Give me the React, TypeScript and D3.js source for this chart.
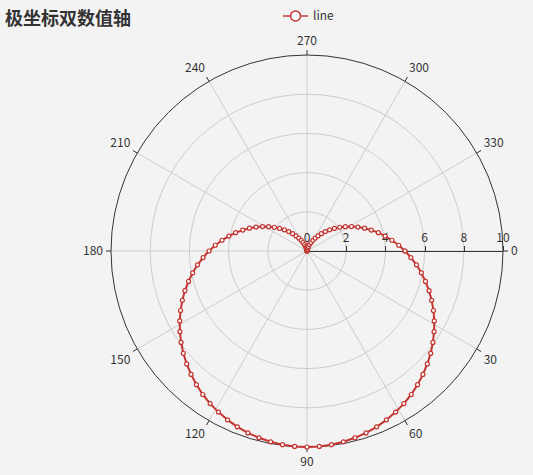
import * as d3 from "d3";
import { useEffect, useRef } from "react";

// ─── data ────────────────────────────────────────────────────────────────
const THETA: number[] = [
  0, 3.6, 7.2, 10.8, 14.4, 18, 21.6, 25.2, 28.8, 32.4, 36, 39.6, 43.2, 46.8, 50.4, 54, 57.6, 61.2, 64.8, 68.4,
  72, 75.6, 79.2, 82.8, 86.4, 90, 93.6, 97.2, 100.8, 104.4, 108, 111.6, 115.2, 118.8, 122.4, 126, 129.6, 133.2,
  136.8, 140.4, 144, 147.6, 151.2, 154.8, 158.4, 162, 165.6, 169.2, 172.8, 176.4, 180, 183.6, 187.2, 190.8, 194.4,
  198, 201.6, 205.2, 208.8, 212.4, 216, 219.6, 223.2, 226.8, 230.4, 234, 237.6, 241.2, 244.8, 248.4, 252, 255.6,
  259.2, 262.8, 266.4, 270, 273.6, 277.2, 280.8, 284.4, 288, 291.6, 295.2, 298.8, 302.4, 306, 309.6, 313.2, 316.8,
  320.4, 324, 327.6, 331.2, 334.8, 338.4, 342, 345.6, 349.2, 352.8, 356.4, 360,
];
const R: number[] = [
  5.0, 5.31, 5.63, 5.94, 6.24, 6.55, 6.84, 7.13, 7.41, 7.68, 7.94, 8.19, 8.42, 8.64, 8.85, 9.05, 9.22, 9.38, 9.52,
  9.65, 9.76, 9.84, 9.91, 9.96, 9.99, 10.0, 9.99, 9.96, 9.91, 9.84, 9.76, 9.65, 9.52, 9.38, 9.22, 9.05, 8.85, 8.64,
  8.42, 8.19, 7.94, 7.68, 7.41, 7.13, 6.84, 6.55, 6.24, 5.94, 5.63, 5.31, 5.0, 4.69, 4.37, 4.06, 3.76, 3.45, 3.16,
  2.87, 2.59, 2.32, 2.06, 1.81, 1.58, 1.36, 1.15, 0.95, 0.78, 0.62, 0.48, 0.35, 0.24, 0.16, 0.09, 0.04, 0.01, 0.0,
  0.01, 0.04, 0.09, 0.16, 0.24, 0.35, 0.48, 0.62, 0.78, 0.95, 1.15, 1.36, 1.58, 1.81, 2.06, 2.32, 2.59, 2.87, 3.16,
  3.45, 3.76, 4.06, 4.37, 4.69, 5.0,
];
const ANGLE_TICKS = [0, 30, 60, 90, 120, 150, 180, 210, 240, 270, 300, 330];
const RADIUS_TICKS = [0, 2, 4, 6, 8, 10];

const TITLE = "极坐标双数值轴";
const SERIES_NAME = "line";
const COLOR = "#c23531";
const FONT = "'Noto Sans CJK SC', 'Noto Sans', sans-serif";

const W = 533;
const H = 475;

export default function App() {
  const ref = useRef<SVGSVGElement>(null);

  useEffect(() => {
    if (!ref.current) return;
    const svg = d3.select(ref.current);
    svg.selectAll("*").remove();

    const cx = 307;
    const cy = 251;
    const rMax = 196;

    const r = d3.scaleLinear().domain([0, 10]).range([0, rMax]);
    // clockwise, 0° at 3 o'clock (screen y points down)
    const a = d3.scaleLinear().domain([0, 360]).range([0, 2 * Math.PI]);
    const px = (rv: number, deg: number) => cx + r(rv) * Math.cos(a(deg));
    const py = (rv: number, deg: number) => cy + r(rv) * Math.sin(a(deg));

    svg.append("rect").attr("width", W).attr("height", H).attr("fill", "#f3f3f3");

    // radius split circles
    RADIUS_TICKS.filter((t) => t > 0 && t < 10).forEach((t) => {
      svg.append("circle")
        .attr("cx", cx).attr("cy", cy).attr("r", r(t))
        .attr("fill", "none").attr("stroke", "#ccc").attr("stroke-width", 1);
    });

    // angle split lines
    ANGLE_TICKS.forEach((t) => {
      svg.append("line")
        .attr("x1", cx).attr("y1", cy)
        .attr("x2", px(10, t)).attr("y2", py(10, t))
        .attr("stroke", "#ccc").attr("stroke-width", 1);
    });

    // angle axis line
    svg.append("circle")
      .attr("cx", cx).attr("cy", cy).attr("r", rMax)
      .attr("fill", "none").attr("stroke", "#333").attr("stroke-width", 1);

    // angle ticks + labels
    ANGLE_TICKS.forEach((t) => {
      const c = Math.cos(a(t));
      const s = Math.sin(a(t));
      svg.append("line")
        .attr("x1", cx + rMax * c).attr("y1", cy + rMax * s)
        .attr("x2", cx + (rMax + 5) * c).attr("y2", cy + (rMax + 5) * s)
        .attr("stroke", "#333").attr("stroke-width", 1);
      const lr = rMax + 8;
      const anchor = Math.abs(c) < 0.01 ? "middle" : c > 0 ? "start" : "end";
      const dy = Math.abs(s) < 0.01 ? "0.35em" : s > 0 ? "0.9em" : "-0.2em";
      svg.append("text")
        .attr("x", cx + lr * c)
        .attr("y", cy + lr * s)
        .attr("dy", dy)
        .attr("text-anchor", anchor)
        .attr("font-family", FONT)
        .attr("font-size", 12)
        .attr("fill", "#333")
        .text(t);
    });

    // radius axis (along 0°)
    svg.append("line")
      .attr("x1", cx).attr("y1", cy + 0.5)
      .attr("x2", cx + rMax).attr("y2", cy + 0.5)
      .attr("stroke", "#333").attr("stroke-width", 1);
    RADIUS_TICKS.forEach((t) => {
      const x = Math.round(cx + r(t)) + 0.5;
      svg.append("line")
        .attr("x1", x).attr("y1", cy)
        .attr("x2", x).attr("y2", cy - 5)
        .attr("stroke", "#333").attr("stroke-width", 1);
      svg.append("text")
        .attr("x", cx + r(t))
        .attr("y", cy - 9)
        .attr("text-anchor", "middle")
        .attr("font-family", FONT)
        .attr("font-size", 12)
        .attr("fill", "#333")
        .text(t);
    });

    // series
    const pts: [number, number][] = R.map((rv, i) => [px(rv, THETA[i]), py(rv, THETA[i])]);
    svg.append("path")
      .attr("d", d3.line()(pts))
      .attr("fill", "none")
      .attr("stroke", COLOR)
      .attr("stroke-width", 2)
      .attr("stroke-linejoin", "round");
    svg.append("g")
      .selectAll("circle")
      .data(pts)
      .enter()
      .append("circle")
      .attr("cx", (d) => d[0])
      .attr("cy", (d) => d[1])
      .attr("r", 2)
      .attr("fill", "#fff")
      .attr("stroke", COLOR)
      .attr("stroke-width", 1.2);

    // title
    svg.append("text")
      .attr("x", 5).attr("y", 25)
      .attr("font-family", FONT)
      .attr("font-size", 18)
      .attr("font-weight", 700)
      .attr("fill", "#333")
      .text(TITLE);

    // legend
    const lg = svg.append("g").attr("transform", "translate(283,16)");
    lg.append("line")
      .attr("x1", 0).attr("x2", 25).attr("y1", 0).attr("y2", 0)
      .attr("stroke", COLOR).attr("stroke-width", 2).attr("opacity", 0.7);
    lg.append("circle")
      .attr("cx", 12.5).attr("cy", 0).attr("r", 5)
      .attr("fill", "#fff").attr("stroke", COLOR).attr("stroke-width", 1.5);
    lg.append("text")
      .attr("x", 30).attr("y", 0).attr("dy", "0.35em")
      .attr("font-family", FONT)
      .attr("font-size", 12)
      .attr("fill", "#333")
      .text(SERIES_NAME);
  }, []);

  return (
    <div style={{ position: "fixed", left: 0, top: 0 }}>
      <svg ref={ref} width={W} height={H} style={{ display: "block" }} />
    </div>
  );
}
